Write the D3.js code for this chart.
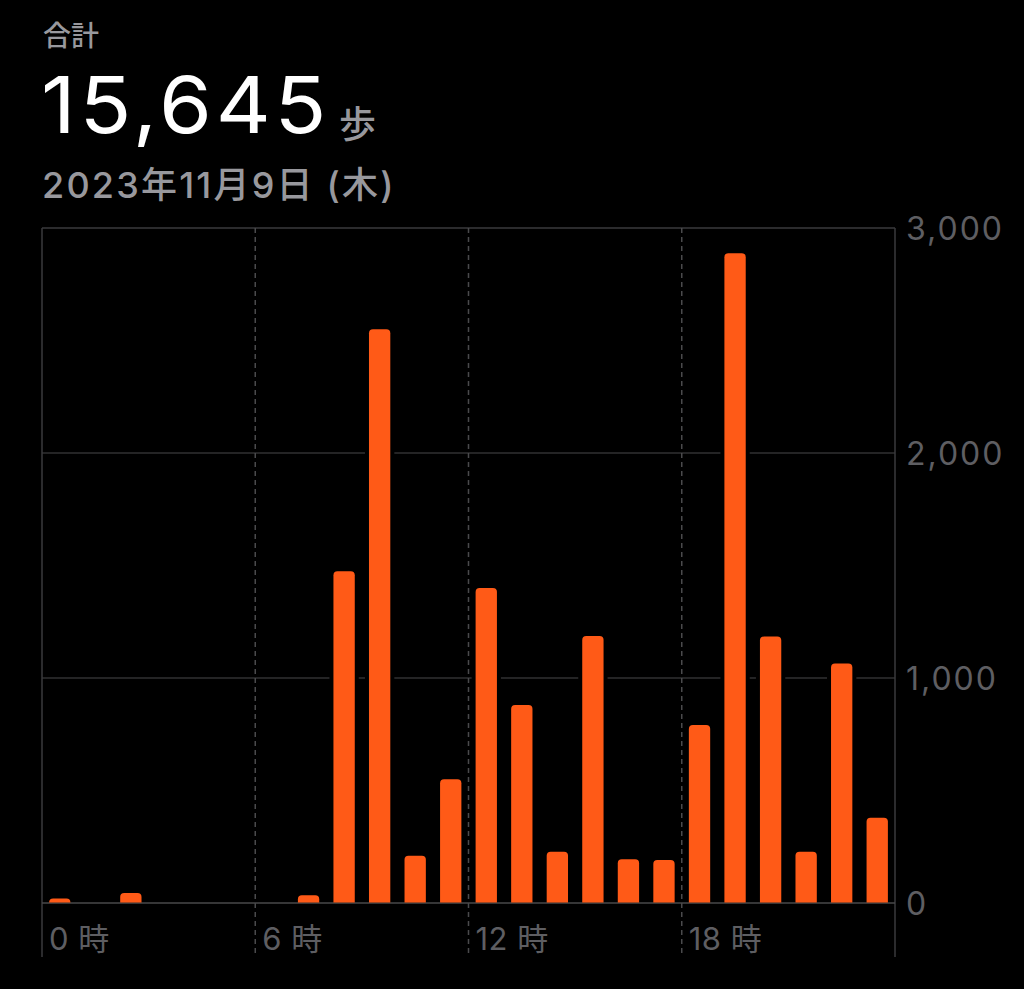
<!DOCTYPE html>
<html lang="ja">
<head>
<meta charset="UTF-8">
<script src="https://cdn.jsdelivr.net/npm/d3@7"></script>
<style>
  html, body { margin: 0; padding: 0; background: #000; }
  svg { display: block; }
  text { font-family: "Inter", "Noto Sans CJK JP", sans-serif; }
</style>
</head>
<body>
<div id="chart"></div>
<script>
// hourly step counts, 2023-11-09
const hours = [0,1,2,3,4,5,6,7,8,9,10,11,12,13,14,15,16,17,18,19,20,21,22,23];
const steps = [20,0,45,0,0,0,0,35,1475,2550,210,550,1400,880,228,1187,194,191,791,2888,1184,228,1065,379];
const yTicks = [0, 1000, 2000, 3000];
const xTicks = [0, 6, 12, 18];

const titleLabel = "合計";
const totalText = "15,645";
const unitText = "歩";
const dateText = "2023年11月9日 (木)";

let width = 1024, height = 989;
let plotLeft = 42, plotRight = 895, plotTop = 228, plotBottom = 903, axisEnd = 957;

const svg = d3.select("#chart").append("svg")
  .attr("width", width)
  .attr("height", height)
  .style("background", "#000");

// header
svg.append("text").attr("x", 43).attr("y", 46)
  .attr("fill", "#98989d").style("font-size", "28px").style("font-weight", 500)
  .text(titleLabel);

// big total, a little wider than Inter to look like the SF digits
svg.append("text")
  .attr("transform", "translate(41,133) scale(1.08,1)")
  .attr("fill", "#fff").style("font-size", "79px").style("font-weight", 400)
  .style("letter-spacing", "3.5px")
  .text(totalText);

svg.append("text").attr("x", 339).attr("y", 138)
  .attr("fill", "#98989d").style("font-size", "37px").style("font-weight", 500)
  .text(unitText);

svg.append("text").attr("x", 42).attr("y", 198)
  .attr("fill", "#98989d").style("font-size", "36px").style("font-weight", 500)
  .style("letter-spacing", "2.2px")
  .text(dateText);

// scales
const x = d3.scaleBand().domain(hours).range([plotLeft, plotRight]).paddingInner(0.4).paddingOuter(0.2);
const xh = d3.scaleLinear().domain([0, 24]).range([plotLeft, plotRight]);
const y = d3.scaleLinear().domain([0, 3000]).range([plotBottom, plotTop]);

// horizontal grid
svg.append("g").selectAll("line").data(yTicks.filter(d => d > 0)).join("line")
  .attr("x1", plotLeft).attr("x2", plotRight)
  .attr("y1", d => y(d)).attr("y2", d => y(d))
  .attr("stroke", d => d === 3000 ? "#3a3a3c" : "#303032").attr("stroke-width", 1.5);

// vertical grid
svg.append("g").selectAll("line").data(xTicks.filter(d => d > 0)).join("line")
  .attr("x1", d => xh(d)).attr("x2", d => xh(d))
  .attr("y1", plotTop).attr("y2", axisEnd)
  .attr("stroke", "#4a4a4c").attr("stroke-width", 1.5)
  .attr("stroke-dasharray", "5,4");

svg.append("line").attr("x1", plotLeft).attr("x2", plotLeft).attr("y1", plotTop).attr("y2", axisEnd)
  .attr("stroke", "#3a3a3c").attr("stroke-width", 1.5);
svg.append("line").attr("x1", plotRight).attr("x2", plotRight).attr("y1", plotTop).attr("y2", axisEnd)
  .attr("stroke", "#3a3a3c").attr("stroke-width", 1.5);

// knock-out behind bars so grid lines stop short of them
const data = hours.map((h, i) => ({hour: h, value: steps[i]})).filter(d => d.value > 0);
svg.append("g").selectAll("rect").data(data).join("rect")
  .attr("x", d => x(d.hour) - 4)
  .attr("width", x.bandwidth() + 8)
  .attr("y", d => y(d.value) - 4)
  .attr("height", d => plotBottom - 1 - (y(d.value) - 4))
  .attr("fill", "#000");

// baseline
svg.append("line").attr("x1", plotLeft).attr("x2", plotRight).attr("y1", plotBottom).attr("y2", plotBottom)
  .attr("stroke", "#48484a").attr("stroke-width", 1.5);

// bars, rounded top
function barPath(d) {
  const x0 = x(d.hour), w = x.bandwidth();
  const y0 = y(d.value), y1 = plotBottom - 0.5;
  const r = Math.min(4, (y1 - y0), w / 2);
  return `M${x0},${y1}V${y0 + r}Q${x0},${y0} ${x0 + r},${y0}H${x0 + w - r}Q${x0 + w},${y0} ${x0 + w},${y0 + r}V${y1}Z`;
}
svg.append("g").selectAll("path").data(data).join("path")
  .attr("d", barPath)
  .attr("fill", "#ff5a17");

// x labels
svg.append("g").selectAll("text").data(xTicks).join("text")
  .attr("x", d => xh(d) + 7)
  .attr("y", 950)
  .attr("fill", "#5e5e62")
  .style("font-size", "31px")
  .style("letter-spacing", "0.5px")
  .text(d => d + " 時");

// y labels on the right
svg.append("g").selectAll("text").data(yTicks).join("text")
  .attr("x", 906)
  .attr("y", d => y(d))
  .attr("dy", "0.36em")
  .attr("fill", "#5e5e62")
  .style("font-size", "32px")
  .style("letter-spacing", "2px")
  .text(d => d3.format(",")(d));
</script>
</body>
</html>
